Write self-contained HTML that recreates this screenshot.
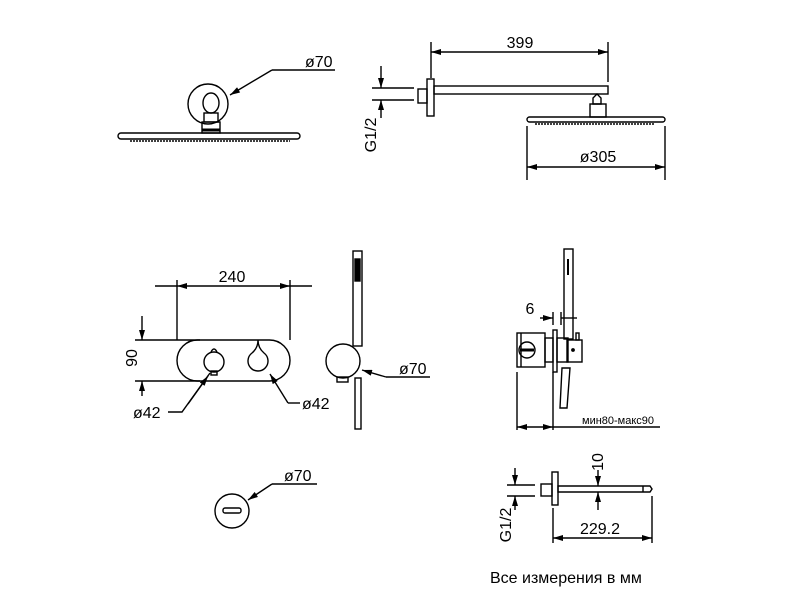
<!DOCTYPE html>
<html><head><meta charset="utf-8"><style>html,body{margin:0;padding:0;background:#fff}svg{display:block}text{font-family:"Liberation Sans",sans-serif;fill:#000}</style></head>
<body>
<svg width="800" height="600" viewBox="0 0 800 600" xmlns="http://www.w3.org/2000/svg">
<defs>
<marker id="a" viewBox="0 0 10 6" refX="10" refY="3" markerWidth="11" markerHeight="6" orient="auto-start-reverse" markerUnits="userSpaceOnUse"><path d="M0,0 L10,3 L0,6 z" fill="#000"/></marker>
</defs>
<g stroke="#000" stroke-width="1.4" fill="none">
<rect x="118" y="133" width="182" height="6" rx="3"/>
<line x1="130" y1="141" x2="290" y2="141" stroke-dasharray="2 1"/>
<circle cx="208" cy="104" r="20"/>
<ellipse cx="211" cy="103" rx="8" ry="10"/>
<rect x="204" y="113" width="14" height="9"/>
<rect x="202" y="122" width="18" height="11"/>
<line x1="202" y1="130" x2="220" y2="130" stroke-width="3"/>
<polyline points="272,70 335,70"/>
<line x1="272" y1="70" x2="230" y2="95" marker-end="url(#a)"/>
<line x1="431" y1="42" x2="431" y2="78"/>
<line x1="608" y1="42" x2="608" y2="82"/>
<line x1="431" y1="52" x2="608" y2="52" marker-start="url(#a)" marker-end="url(#a)"/>
<rect x="427" y="79" width="7" height="37"/>
<rect x="418" y="89" width="9" height="14"/>
<rect x="434" y="86" width="174" height="8"/>
<line x1="372" y1="88" x2="414" y2="88"/>
<line x1="372" y1="100" x2="414" y2="100"/>
<line x1="381" y1="66" x2="381" y2="88" marker-end="url(#a)"/>
<line x1="381" y1="118" x2="381" y2="100" marker-end="url(#a)"/>
<path d="M597,94 l4,4 l0,6 l-8,0 l0,-6 z"/>
<rect x="590" y="104" width="16" height="13"/>
<rect x="527" y="117" width="138" height="5" rx="2.5"/>
<line x1="535" y1="124" x2="655" y2="124" stroke-dasharray="2 1"/>
<line x1="527" y1="126" x2="527" y2="180"/>
<line x1="665" y1="126" x2="665" y2="180"/>
<line x1="527" y1="167" x2="665" y2="167" marker-start="url(#a)" marker-end="url(#a)"/>
<line x1="177" y1="280" x2="177" y2="340"/>
<line x1="290" y1="280" x2="290" y2="340"/>
<line x1="155" y1="286" x2="177" y2="286"/>
<line x1="290" y1="286" x2="312" y2="286"/>
<line x1="177" y1="286" x2="290" y2="286" marker-start="url(#a)" marker-end="url(#a)"/>
<line x1="135" y1="340" x2="200" y2="340"/>
<line x1="135" y1="381" x2="200" y2="381"/>
<line x1="142" y1="316" x2="142" y2="340" marker-end="url(#a)"/>
<line x1="142" y1="396" x2="142" y2="381" marker-end="url(#a)"/>
<rect x="177" y="340" width="113" height="41" rx="20.5"/>
<circle cx="214" cy="362" r="10"/>
<path d="M211,352 q3,-6 6,0"/>
<rect x="211" y="371" width="6" height="4"/>
<path d="M258,340 q0,8 -6,13 a10,10 0 1 0 12,0 q-6,-5 -6,-13 z"/>
<polyline points="168,412 182,412 210,373"/>
<line x1="188" y1="404" x2="208" y2="376" marker-end="url(#a)"/>
<polyline points="288,403 300,403"/>
<line x1="288" y1="403" x2="270" y2="374" marker-end="url(#a)"/>
<rect x="353" y="251" width="9" height="95"/>
<rect x="355" y="259" width="5" height="22" fill="#000"/>
<circle cx="343" cy="361" r="17"/>
<rect x="337" y="377" width="11" height="5"/>
<rect x="355" y="378" width="6" height="51"/>
<polyline points="386,377 430,377"/>
<line x1="386" y1="377" x2="362" y2="370" marker-end="url(#a)"/>
<rect x="564" y="249" width="9" height="90"/>
<line x1="568" y1="259" x2="568" y2="275" stroke-width="2"/>
<line x1="553" y1="312" x2="553" y2="325"/>
<line x1="561" y1="312" x2="561" y2="325"/>
<line x1="540" y1="318" x2="553" y2="318" marker-end="url(#a)"/>
<line x1="577" y1="318" x2="561" y2="318"/>
<rect x="517" y="333" width="28" height="34"/>
<line x1="521" y1="333" x2="521" y2="367"/>
<circle cx="527" cy="350" r="8"/>
<line x1="520" y1="350" x2="534" y2="350" stroke-width="3"/>
<rect x="545" y="338" width="8" height="24"/>
<rect x="553" y="330" width="4" height="42"/>
<rect x="557" y="338" width="11" height="24"/>
<rect x="567" y="340" width="15" height="22"/>
<rect x="576" y="333" width="3" height="7"/>
<circle cx="573" cy="350" r="1.2" fill="#000"/>
<path d="M562,368 l8,0 l-3,40 l-7,0 z"/>
<line x1="517" y1="372" x2="517" y2="430"/>
<line x1="553" y1="372" x2="553" y2="430"/>
<line x1="553" y1="427" x2="660" y2="427"/>
<line x1="535" y1="427" x2="517" y2="427" marker-end="url(#a)"/>
<line x1="535" y1="427" x2="553" y2="427" marker-end="url(#a)"/>
<circle cx="232" cy="511" r="17"/>
<rect x="223" y="508" width="18" height="5" rx="2"/>
<polyline points="272,484 317,484"/>
<line x1="272" y1="484" x2="248" y2="500" marker-end="url(#a)"/>
<line x1="507" y1="485" x2="535" y2="485"/>
<line x1="507" y1="496" x2="535" y2="496"/>
<line x1="515" y1="468" x2="515" y2="485" marker-end="url(#a)"/>
<line x1="515" y1="510" x2="515" y2="496" marker-end="url(#a)"/>
<rect x="541" y="484" width="11" height="12"/>
<rect x="552" y="472" width="6" height="33"/>
<path d="M558,486 L650,486 L652,489 L650,492 L558,492 z"/>
<line x1="643" y1="486" x2="643" y2="492"/>
<line x1="598" y1="470" x2="598" y2="486" marker-end="url(#a)"/>
<line x1="598" y1="510" x2="598" y2="492" marker-end="url(#a)"/>
<line x1="553" y1="508" x2="553" y2="543"/>
<line x1="652" y1="496" x2="652" y2="543"/>
<line x1="553" y1="538" x2="652" y2="538" marker-start="url(#a)" marker-end="url(#a)"/>
</g>
<g font-size="16">
<text x="305" y="67">ø70</text>
<text x="520" y="48" text-anchor="middle">399</text>
<text x="598" y="162" text-anchor="middle">ø305</text>
<text transform="translate(376,135) rotate(-90)" text-anchor="middle">G1/2</text>
<text x="232" y="282" text-anchor="middle">240</text>
<text transform="translate(137,358) rotate(-90)" text-anchor="middle">90</text>
<text x="133" y="418">ø42</text>
<text x="302" y="409">ø42</text>
<text x="399" y="374">ø70</text>
<text x="530" y="314" text-anchor="middle">6</text>
<text x="284" y="481">ø70</text>
<text transform="translate(603,462) rotate(-90)" text-anchor="middle">10</text>
<text transform="translate(511,525) rotate(-90)" text-anchor="middle">G1/2</text>
<text x="600" y="534" text-anchor="middle">229.2</text>
<text x="490" y="583">Все измерения в мм</text>
</g>
<text x="582" y="424" font-size="11">мин80-макс90</text>
</svg>
</body></html>
